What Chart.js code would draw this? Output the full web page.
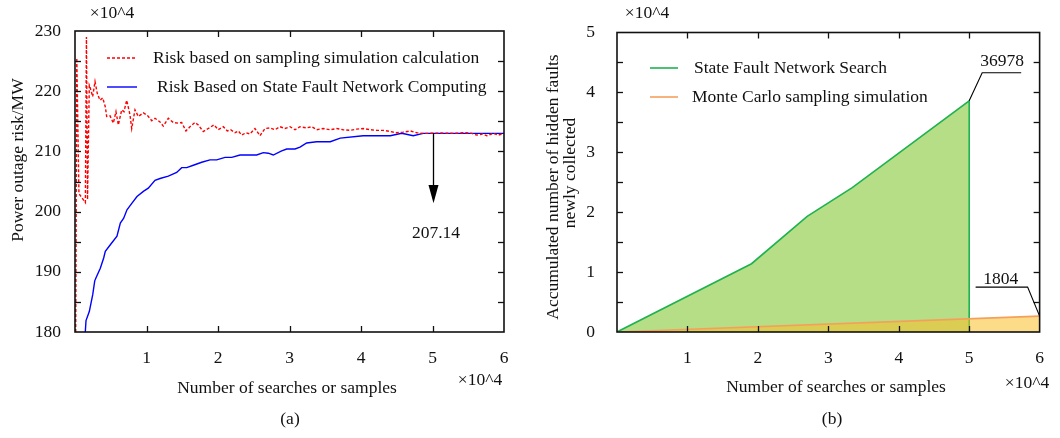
<!DOCTYPE html>
<html><head><meta charset="utf-8">
<script src="https://cdn.jsdelivr.net/npm/chart.js@4/dist/chart.umd.min.js"></script>
<style>
html,body{margin:0;padding:0;background:#fff;}
#wrap{position:relative;width:1060px;height:438px;overflow:hidden;}
canvas{position:absolute;top:0;}
</style></head><body>
<div id="wrap">
<canvas id="ca" width="530" height="438" style="left:0;width:530px;height:438px"></canvas>
<canvas id="cb" width="530" height="438" style="left:530px;width:530px;height:438px"></canvas>
</div>
<script>
// ---------- data (x in units of 10^4 searches/samples) ----------
const sampleX = [0.01,0.025,0.055,0.145,0.16,0.175,0.2,0.21,0.247,0.28,0.312,0.35,0.387,0.424,0.443,0.49,0.536,0.573,0.606,0.653,0.685,0.723,0.769,0.793,0.839,0.886,0.956,1.011,1.073,1.119,1.189,1.235,1.305,1.375,1.445,1.492,1.552,1.608,1.678,1.724,1.794,1.864,1.944,2.004,2.074,2.130,2.178,2.238,2.284,2.331,2.392,2.448,2.517,2.587,2.657,2.727,2.797,2.867,2.937,3.007,3.077,3.147,3.24,3.31,3.38,3.47,3.57,3.66,3.75,3.85,3.94,4.03,4.13,4.22,4.31,4.41,4.50,4.59,4.69,4.78,4.87,4.95,5.1,5.3,5.45,5.55,5.62,5.7,5.76,5.85,5.92,5.97,6.0];
const sampleRisk = [180,225.5,203,201.5,229,202,221,220.7,219.1,221.6,219.6,218.5,218.9,217.4,215.8,215.9,214.7,216.6,214.4,216.9,216.6,218.5,216.1,213.8,216.9,215.8,216.4,216.0,215.1,215.5,214.9,214.2,215.5,214.8,214.7,214.8,213.4,214.1,214.8,214.4,213.3,213.8,214.4,213.6,214.1,213.4,213.6,213.1,213.4,212.7,213.1,212.9,213.8,212.6,213.8,213.9,213.6,214.1,213.8,214.1,213.6,214.1,213.9,214.1,213.6,213.8,213.6,213.8,213.6,213.5,213.7,213.8,213.6,213.5,213.5,213.3,213.1,213.2,213.4,213.1,213.0,213.0,213.05,213.0,213.1,213.0,212.7,212.9,212.6,213.0,212.7,212.9,213.0];
const networkX = [0.144,0.154,0.2,0.248,0.276,0.294,0.354,0.401,0.424,0.494,0.587,0.634,0.681,0.727,0.797,0.867,0.961,1.025,1.119,1.189,1.305,1.422,1.492,1.562,1.655,1.772,1.888,1.982,2.098,2.192,2.308,2.541,2.634,2.703,2.773,2.891,2.961,3.077,3.147,3.24,3.38,3.57,3.71,4.03,4.31,4.41,4.57,4.73,4.87,6.0];
const networkRisk = [180,181.9,183.4,186.2,188.5,189.0,190.6,192.3,193.4,194.5,195.9,198.1,198.9,200.3,201.4,202.5,203.4,203.9,205.2,205.5,205.9,206.5,207.3,207.3,207.7,208.2,208.6,208.6,209.0,209.0,209.4,209.4,209.8,209.7,209.4,210.1,210.4,210.4,210.7,211.4,211.6,211.6,212.2,212.6,212.6,212.6,213.0,212.6,213.0,213.0];

// accumulated hidden faults (units of 10^4)
const faultSearchX = [0, 1.91, 2.70, 3.34, 5.0, 5.0];
const faultSearchY = [0, 1.14, 1.93, 2.41, 3.86, 0];
const monteCarloX = [0, 6];
const monteCarloY = [0, 0.265];

// tick labels
const xTickLabels = [1, 2, 3, 4, 5, 6];
const riskTickLabels = [180, 190, 200, 210, 220, 230];
const faultTickLabels = [0, 1, 2, 3, 4, 5];

// annotations
const riskNote = '207.14';
const searchNote = '36978';
const mcNote = '1804';

const FONT = '"Liberation Serif", "Times New Roman", serif';
const FS = 17.5;
Chart.defaults.font.family = FONT;
Chart.defaults.font.size = FS;
Chart.defaults.color = '#111';

const pts = (xs, ys) => xs.map((v, i) => ({x: v, y: ys[i]}));

function txt(ctx, s, x, y, align, rot) {
  ctx.save();
  ctx.font = FS + 'px ' + FONT;
  ctx.fillStyle = '#111';
  ctx.textAlign = align || 'center';
  ctx.textBaseline = 'middle';
  ctx.translate(x, y);
  if (rot) ctx.rotate(rot);
  ctx.fillText(s, 0, 0);
  ctx.restore();
}
function seg(ctx, x1, y1, x2, y2) { ctx.beginPath(); ctx.moveTo(x1, y1); ctx.lineTo(x2, y2); ctx.stroke(); }

const framePlugin = {
  id: 'frame',
  afterDraw(chart) {
    const {ctx, chartArea: a, scales: {x, y}} = chart;
    ctx.save();
    ctx.strokeStyle = '#111';
    ctx.lineWidth = 1.3;
    const L = 6;
    x.ticks.forEach(t => {
      const p = Math.round(x.getPixelForValue(t.value)) + 0.5;
      if (p <= a.left + 1 || p >= a.right - 1) return;
      seg(ctx, p, a.bottom, p, a.bottom - L);
      seg(ctx, p, a.top, p, a.top + L);
    });
    y.ticks.forEach(t => {
      const p = Math.round(y.getPixelForValue(t.value)) + 0.5;
      if (p <= a.top + 1 || p >= a.bottom - 1) return;
      seg(ctx, a.left, p, a.left + L, p);
      seg(ctx, a.right, p, a.right - L, p);
    });
    ctx.lineWidth = 1.6;
    ctx.strokeRect(a.left, a.top, a.right - a.left, a.bottom - a.top);
    ctx.restore();
  }
};

function legendRows(chart, rows) {
  const ctx = chart.ctx;
  rows.forEach(r => {
    const ds = chart.data.datasets[r.ds];
    ctx.save();
    ctx.strokeStyle = ds.borderColor;
    ctx.lineWidth = ds.borderWidth;
    ctx.setLineDash(ds.borderDash || []);
    seg(ctx, r.x1, r.y, r.x2, r.y);
    ctx.restore();
    txt(ctx, ds.label, r.tx, r.y, 'left');
  });
}

// ---------------- chart (a) ----------------
const annotA = {
  id: 'annotA',
  afterDraw(chart) {
    const {ctx, scales: {x, y}} = chart;
    legendRows(chart, [
      {ds: 0, x1: 107, x2: 137, y: 58, tx: 153},
      {ds: 1, x1: 107, x2: 137, y: 87, tx: 157}
    ]);
    const px = Math.round(x.getPixelForValue(5)) + 0.5;
    const yTop = y.getPixelForValue(213.0), yBase = y.getPixelForValue(204.4), yTip = y.getPixelForValue(201.4);
    ctx.save();
    ctx.strokeStyle = '#000'; ctx.fillStyle = '#000'; ctx.lineWidth = 1.3;
    seg(ctx, px, yTop, px, yBase);
    ctx.beginPath(); ctx.moveTo(px - 5, yBase); ctx.lineTo(px + 5, yBase); ctx.lineTo(px, yTip); ctx.closePath(); ctx.fill();
    ctx.restore();
    txt(ctx, riskNote, 436, 233);
    txt(ctx, '×10^4', 112, 13);
    txt(ctx, '×10^4', 480, 380);
    txt(ctx, 'Number of searches or samples', 287, 388);
    txt(ctx, '(a)', 290, 419);
    txt(ctx, 'Power outage risk/MW', 18, 160, 'center', -Math.PI / 2);
  }
};

new Chart(document.getElementById('ca'), {
  type: 'line',
  data: {
    datasets: [
      {label: 'Risk based on sampling simulation calculation', data: pts(sampleX, sampleRisk),
       borderColor: 'rgb(255,0,0)', borderWidth: 1.4, borderDash: [3, 2], pointRadius: 0, tension: 0, fill: false},
      {label: 'Risk Based on State Fault Network Computing', data: pts(networkX, networkRisk),
       borderColor: 'rgb(0,0,255)', borderWidth: 1.4, pointRadius: 0, tension: 0, fill: false}
    ]
  },
  options: {
    responsive: false, animation: false, devicePixelRatio: 1,
    layout: {padding: {left: 0, right: 26, top: 31, bottom: 46}},
    plugins: {legend: {display: false}, tooltip: {enabled: false}},
    scales: {
      x: {type: 'linear', min: 0, max: 6,
          grid: {display: false, drawTicks: false}, border: {display: false},
          ticks: {stepSize: 1, padding: 16, maxRotation: 0, autoSkip: false,
                  callback: v => xTickLabels.includes(v) ? String(v) : ''},
          afterFit: s => { s.height = 60; }},
      y: {type: 'linear', min: 180, max: 230,
          grid: {display: false, drawTicks: false}, border: {display: false},
          ticks: {stepSize: 5, padding: 14, autoSkip: false,
                  callback: v => riskTickLabels.includes(v) ? String(v) : ''},
          afterFit: s => { s.width = 75; }}
    }
  },
  plugins: [framePlugin, annotA]
});

// ---------------- chart (b) ----------------
const annotB = {
  id: 'annotB',
  afterDraw(chart) {
    const {ctx, scales: {x, y}} = chart;
    legendRows(chart, [
      {ds: 1, x1: 120, x2: 148, y: 68, tx: 164},
      {ds: 0, x1: 120, x2: 148, y: 97, tx: 162}
    ]);
    ctx.save();
    ctx.strokeStyle = '#000'; ctx.lineWidth = 1.1;
    const sx = x.getPixelForValue(faultSearchX[4]), sy = y.getPixelForValue(faultSearchY[4]);
    ctx.beginPath(); ctx.moveTo(sx, sy); ctx.lineTo(sx + 13, sy - 28); ctx.lineTo(sx + 52, sy - 28); ctx.stroke();
    const mx = x.getPixelForValue(monteCarloX[1]), my = y.getPixelForValue(monteCarloY[1]);
    ctx.beginPath(); ctx.moveTo(mx, my); ctx.lineTo(mx - 12, my - 29); ctx.lineTo(mx - 64, my - 29); ctx.stroke();
    ctx.restore();
    txt(ctx, searchNote, sx + 33, sy - 39);
    txt(ctx, mcNote, mx - 39, my - 37);
    txt(ctx, '×10^4', 117, 13);
    txt(ctx, '×10^4', 497, 383);
    txt(ctx, 'Number of searches or samples', 306, 387);
    txt(ctx, '(b)', 302, 419);
    txt(ctx, 'Accumulated number of hidden faults', 23, 187, 'center', -Math.PI / 2);
    txt(ctx, 'newly collected', 40, 173, 'center', -Math.PI / 2);
  }
};

new Chart(document.getElementById('cb'), {
  type: 'line',
  data: {
    datasets: [
      {label: 'Monte Carlo sampling simulation', data: pts(monteCarloX, monteCarloY), order: 0,
       borderColor: 'rgb(245,160,90)', borderWidth: 1.6, pointRadius: 0, tension: 0,
       fill: 'origin', backgroundColor: 'rgba(250,190,40,0.55)'},
      {label: 'State Fault Network Search', data: pts(faultSearchX, faultSearchY), order: 1,
       borderColor: 'rgb(30,178,80)', borderWidth: 1.6, pointRadius: 0, tension: 0,
       fill: 'origin', backgroundColor: 'rgb(181,222,135)'}
    ]
  },
  options: {
    responsive: false, animation: false, devicePixelRatio: 1,
    layout: {padding: {left: 0, right: 14, top: 31, bottom: 46}},
    plugins: {legend: {display: false}, tooltip: {enabled: false}},
    scales: {
      x: {type: 'linear', min: 0, max: 6,
          grid: {display: false, drawTicks: false}, border: {display: false},
          ticks: {stepSize: 1, padding: 16, maxRotation: 0, autoSkip: false,
                  callback: v => xTickLabels.includes(v) ? String(v) : ''},
          afterFit: s => { s.height = 60; }},
      y: {type: 'linear', min: 0, max: 5,
          grid: {display: false, drawTicks: false}, border: {display: false},
          ticks: {stepSize: 0.5, padding: 22, autoSkip: false,
                  callback: v => faultTickLabels.includes(v) ? String(v) : ''},
          afterFit: s => { s.width = 87; }}
    }
  },
  plugins: [framePlugin, annotB]
});
</script>
</body></html>
